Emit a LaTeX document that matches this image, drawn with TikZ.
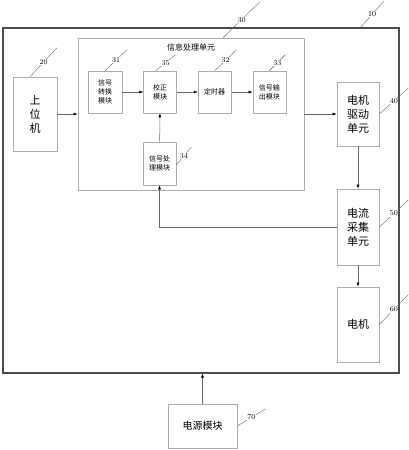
\documentclass[tikz,border=0pt]{standalone}
\usepackage{fontspec}
\usepackage{tikz}
\usetikzlibrary{arrows.meta, positioning, calc}
\newfontfamily\cjk{Noto Sans CJK SC}

\begin{document}
\begin{tikzpicture}[
    x=1pt, y=1pt,
    block/.style={rectangle, draw=gray!65, line width=0.6pt, align=center, inner sep=0pt, font=\cjk\fontsize{7}{9}\selectfont},
    bigblock/.style={block, font=\cjk\fontsize{11}{14}\selectfont},
    arrow/.style={draw=gray!80!black, line width=0.5pt, -{Latex[length=4pt, width=3pt, black]}},
    tag/.style={draw=gray!80!black, line width=0.4pt},
    num/.style={fill=white, inner sep=0.5pt, font=\fontsize{7.5}{8}\selectfont}
]
    \useasboundingbox (0,0) rectangle (409,-450);

    % System frame and main units
    \node[rectangle, draw=gray!60!black, line width=1.3pt, minimum width=396pt, minimum height=345pt] (sys) at (201,-200.5) {};
    \node[block, minimum width=226pt, minimum height=152pt] (proc) at (191,-114) {};
    \node[font=\cjk\fontsize{8}{9}\selectfont, below=2pt of proc.north] (proctitle) {信息处理单元};
    \node[bigblock, minimum width=44pt, minimum height=74pt] (host) at (35,-114) {上\\位\\机};

    % Modules inside the processing unit
    \node[block, minimum width=34pt, minimum height=42pt] (sig) at (105,-92) {信号\\转换\\模块};
    \node[block, minimum width=33pt, minimum height=42pt, right=21pt of sig] (cal) {校正\\模块};
    \node[block, minimum width=33pt, minimum height=42pt, right=21pt of cal] (tim) {定时器};
    \node[block, minimum width=33pt, minimum height=42pt, right=21pt of tim] (out) {信号输\\出模块};
    \node[block, minimum width=33pt, minimum height=43pt] (ana) at (159.5,-163.5) {信号处\\理模块};

    % Motor side
    \node[bigblock, minimum width=42pt, minimum height=64pt] (drive) at (358,-114) {电机\\驱动\\单元};
    \node[bigblock, minimum width=42pt, minimum height=76pt] (acq) at (358,-227) {电流\\采集\\单元};
    \node[bigblock, minimum width=42pt, minimum height=75pt] (motor) at (358,-324.5) {电机};
    \node[block, font=\cjk\fontsize{10}{12}\selectfont, minimum width=69pt, minimum height=44pt] (pwr) at (202.5,-426) {电源模块};

    % Connections
    \draw[arrow] (host) -- (proc.west |- host);
    \draw[arrow] (sig) -- (cal);
    \draw[arrow] (cal) -- (tim);
    \draw[arrow] (tim) -- (out);
    \draw[arrow] (ana) -- (cal);
    \draw[arrow] (proc.east |- drive) -- (drive);
    \draw[arrow] (drive) -- (acq);
    \draw[arrow] (acq) -- (motor);
    \draw[arrow] (acq.west) -| (ana.south);
    \draw[arrow] (pwr.north) -- (pwr.north |- sys.south);

    % Reference numbers
    \draw[tag] ([xshift=-39pt]sys.north east) -- ++(23,26) node[midway, num] {10};
    \draw[tag] ([xshift=-5pt]host.north) -- ++(27,29) node[midway, num] {20};
    \draw[tag] ([xshift=32pt]proc.north) -- ++(37,36) node[midway, num] {30};
    \draw[tag] (sig.north) -- ++(22,21) node[midway, num] {31};
    \draw[tag] ([xshift=-4.5pt]cal.north) -- ++(20,16) node[midway, num] {35};
    \draw[tag] (tim.north) -- ++(22,21) node[midway, num] {32};
    \draw[tag] (out.north) -- ++(16,16) node[midway, num] {33};
    \draw[tag] ([yshift=-1.5pt]ana.east) -- ++(15,18) node[midway, num] {34};
    \draw[tag] (drive.east) -- ++(29,26) node[midway, num] {40};
    \draw[tag] (acq.east) -- ++(29,27) node[midway, num] {50};
    \draw[tag] (motor.east) -- ++(29,30) node[midway, num] {60};
    \draw[tag] (pwr.east) -- ++(28,17) node[midway, num] {70};

\end{tikzpicture}
\end{document}
